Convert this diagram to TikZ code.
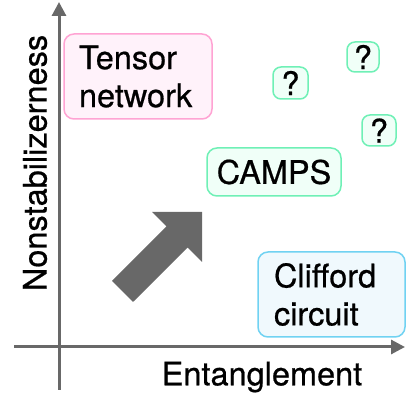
\documentclass[tikz,border=0pt]{standalone}
\usepackage{fontspec}
\setmainfont{TeX Gyre Heros}[FakeBold=0.6]
\usepackage{tikz}
\usepackage{xcolor}
\usetikzlibrary{shapes.geometric, positioning, arrows, arrows.meta}

\definecolor{axisgray}{HTML}{686868}
\definecolor{pinkline}{HTML}{FFA3D3}
\definecolor{pinkfill}{HTML}{FFF2FA}
\definecolor{greenline}{HTML}{6FF0B6}
\definecolor{greenfill}{HTML}{F0FFF8}
\definecolor{blueline}{HTML}{70D2F2}
\definecolor{bluefill}{HTML}{F0F9FD}

\tikzset{
  region/.style={draw, line width=1.5pt, rounded corners=10pt, align=left,
    inner sep=0pt, font=\fontsize{32.5}{38}\selectfont},
  qbox/.style={draw=greenline, fill=greenfill, line width=1.5pt, rounded corners=8pt,
    inner sep=0pt, font=\fontsize{32.5}{38}\selectfont},
  axislabel/.style={font=\fontsize{32.5}{38}\selectfont}
}

\begin{document}
\begin{tikzpicture}[x=1pt,y=1pt]
\useasboundingbox (0,0) rectangle (408,399);
% axes
\coordinate (xs) at (14,52);
\coordinate (xe) at (405,52);
\coordinate (ys) at (59,9);
\coordinate (ye) at (59,397);
\draw[axisgray, line width=3pt, -{Triangle[width=14pt,length=14pt]}] (ys) -- (ye);
\draw[axisgray, line width=3pt, -{Triangle[width=14pt,length=14pt]}] (xs) -- (xe);
\node[axislabel] (xlab) at (262,22) {Entanglement};
\node[axislabel, rotate=90] (ylab) at (35,236) {Nonstabilizerness};

% regions
\node[region, draw=pinkline, fill=pinkfill, minimum width=148pt, minimum height=85pt,
  text width=118pt] (tn) at (138,322.5) {Tensor\\network};
\node[region, draw=greenline, fill=greenfill, minimum width=134pt, minimum height=48pt]
  (camps) at (274,227) {CAMPS};
\node[region, draw=blueline, fill=bluefill, minimum width=147pt, minimum height=85pt,
  text width=115pt] (cliff) at (331.5,104.5) {Clifford\\circuit};

% unknown points
\node[qbox, minimum width=35pt, minimum height=32pt] (q1) at (290.5,316) {?};
\node[qbox, minimum width=32pt, minimum height=30pt] (q2) at (363,342) {?};
\node[qbox, minimum width=34pt, minimum height=31pt] (q3) at (379,268.5) {?};

% big arrow
\fill[axisgray] (112,118) -- (166.4,172.6) -- (152,187) -- (202,187)
  -- (202,137) -- (187.6,151.4) -- (133,97) -- cycle;
\end{tikzpicture}
\end{document}
